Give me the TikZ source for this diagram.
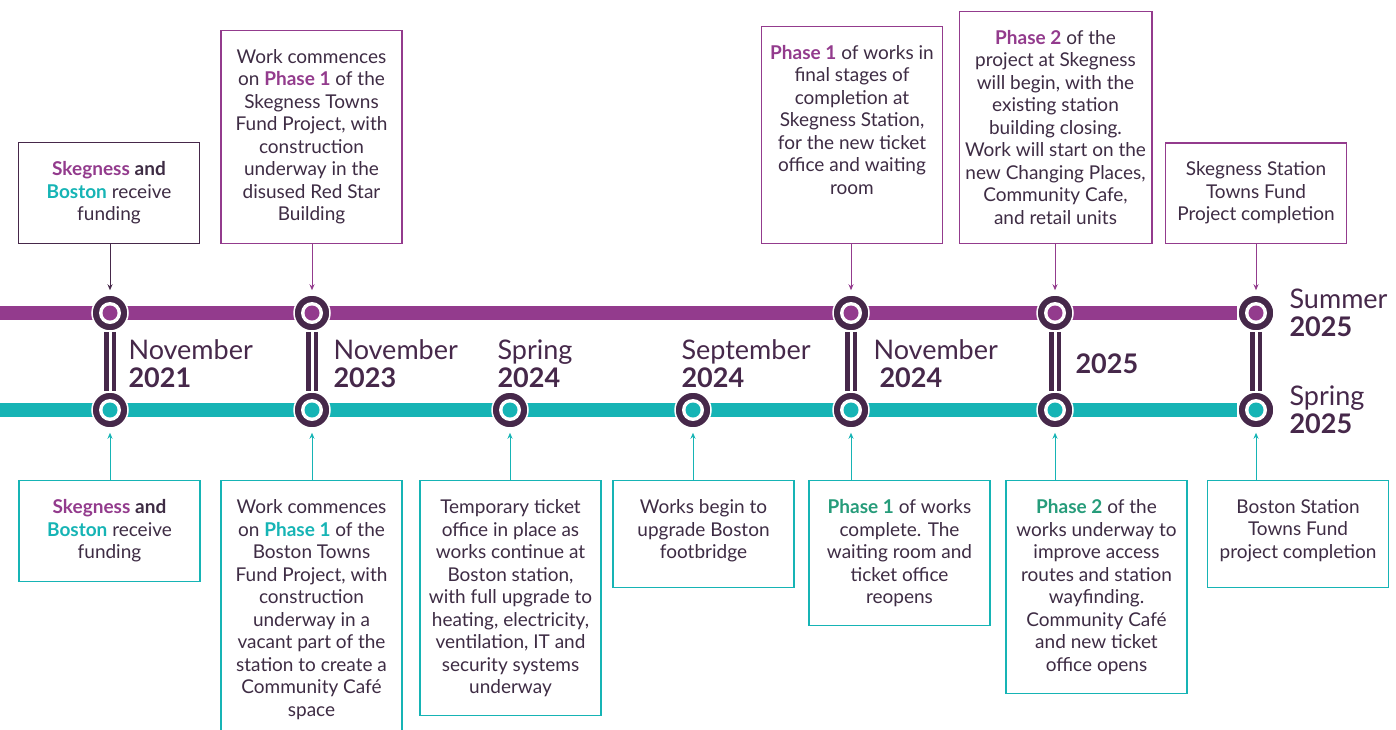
\documentclass[tikz,border=0pt]{standalone}
\usepackage{fontspec}
\setmainfont{Lato}
\usetikzlibrary{arrows.meta, positioning}
\definecolor{skegcolor}{RGB}{147, 59, 141}
\definecolor{bostcolor}{RGB}{22, 180, 181}
\definecolor{stopcolor}{RGB}{70, 40, 74}
\definecolor{textcolor}{RGB}{62, 44, 68}
\definecolor{phasecolor}{RGB}{38, 156, 122}
\newcommand{\skeg}[1]{\textbf{\color{skegcolor}#1}}
\newcommand{\bost}[1]{\textbf{\color{bostcolor}#1}}
\newcommand{\phs}[1]{\textbf{\color{phasecolor}#1}}

\begin{document}
\begin{tikzpicture}[x=1pt, y=-1pt,
    upbox/.style={draw=skegcolor, line width=1.1pt, fill=white, text=textcolor, align=center, font=\fontsize{19}{22.5}\selectfont, minimum width=181pt, inner xsep=6pt, inner ysep=19pt, anchor=south},
    lowbox/.style={upbox, draw=bostcolor, anchor=north},
    stopnode/.style={circle, fill=stopcolor, draw=white, line width=1.5pt, minimum size=36pt, inner sep=0pt},
    datelabel/.style={anchor=west, align=left, text=stopcolor, font=\fontsize{27}{28}\selectfont},
    downarrow/.style={-{Stealth[length=6pt, width=5pt]}, skegcolor, line width=0.9pt, shorten >=4pt},
    uparrow/.style={downarrow, bostcolor}]
    \useasboundingbox (0,0) rectangle (1396,729);
    \clip (0,0) rectangle (1396,729);

    % Stops on the two lines
    \node[stopnode] (s1) at (110, 313) {};
    \node[stopnode] (s2) at (312, 313) {};
    \node[stopnode] (s3) at (851, 313) {};
    \node[stopnode] (s4) at (1055, 313) {};
    \node[stopnode] (s5) at (1256, 313) {};
    \node[stopnode] (b1) at (110, 410) {};
    \node[stopnode] (b2) at (312, 410) {};
    \node[stopnode] (b3) at (510, 410) {};
    \node[stopnode] (b4) at (693, 410) {};
    \node[stopnode] (b5) at (851, 410) {};
    \node[stopnode] (b6) at (1055, 410) {};
    \node[stopnode] (b7) at (1256, 410) {};
    \coordinate (sstart) at (-10, 313);
    \coordinate (bstart) at (-10, 410);

    % Lines
    \draw[skegcolor, line width=14pt] (sstart) -- (s5.west);
    \draw[bostcolor, line width=14pt] (bstart) -- (b7.west);

    % Links between the lines
    \foreach \a/\b in {s1/b1, s2/b2, s3/b5, s4/b6, s5/b7} {
        \draw[stopcolor, line width=12pt] (\a) -- (\b);
    }

    % Stops drawn again on top
    \foreach \n in {s1, s2, s3, s4, s5, b1, b2, b3, b4, b5, b6, b7} {
        \node[stopnode] at (\n) {};
        \fill[white] (\n) circle (11);
    }
    \foreach \a/\b in {s1/b1, s2/b2, s3/b5, s4/b6, s5/b7} {
        \draw[white, line width=3pt] (\a) -- (\b);
    }
    \foreach \n in {s1, s2, s3, s4, s5} {
        \fill[skegcolor] (\n) circle (7.5);
    }
    \foreach \n in {b1, b2, b3, b4, b5, b6, b7} {
        \fill[bostcolor] (\n) circle (7.5);
    }

    % Dates
    \node[datelabel] (d1) at (125, 364) {November\\\textbf{2021}};
    \node[datelabel] (d2) at (330, 364) {November\\\textbf{2023}};
    \node[datelabel] (d3) at (494, 364) {Spring\\\textbf{2024}};
    \node[datelabel] (d4) at (678, 364) {September\\\textbf{2024}};
    \node[datelabel] (d5) at (870, 364) {November\\\hspace*{6pt}\textbf{2024}};
    \node[datelabel] (d6) at (1072, 364) {\textbf{2025}};
    \node[datelabel] (d7) at (1286, 313) {Summer\\\textbf{2025}};
    \node[datelabel] (d8) at (1286, 410) {Spring\\\textbf{2025}};

    % Skegness boxes
    \node[upbox, draw=stopcolor] (u1) at (109, 244) {\skeg{Skegness} \textbf{and}\\\bost{Boston} receive\\funding};
    \node[upbox] (u2) at (311.5, 244) {Work commences\\on \skeg{Phase 1} of the\\Skegness Towns\\Fund Project, with\\construction\\underway in the\\disused Red Star\\Building};
    \node[upbox] (u3) at (852, 244) {\skeg{Phase 1} of works in\\final stages of\\completion at\\Skegness Station,\\for the new ticket\\office and waiting\\room\rule[-30pt]{0pt}{0pt}};
    \node[upbox] (u4) at (1055.5, 244) {\skeg{Phase 2} of the\\project at Skegness\\will begin, with the\\existing station\\building closing.\\Work will start on the\\new Changing Places,\\Community Cafe,\\and retail units};
    \node[upbox] (u5) at (1256, 244) {Skegness Station\\Towns Fund\\Project completion};

    % Boston boxes
    \node[lowbox] (l1) at (109.5, 480) {\skeg{Skegness} \textbf{and}\\\bost{Boston} receive\\funding};
    \node[lowbox] (l2) at (311.5, 480) {Work commences\\on \bost{Phase 1} of the\\Boston Towns\\Fund Project, with\\construction\\underway in a\\vacant part of the\\station to create a\\Community Café\\space};
    \node[lowbox] (l3) at (510.5, 480) {Temporary ticket\\office in place as\\works continue at\\Boston station,\\with full upgrade to\\heating, electricity,\\ventilation, IT and\\security systems\\underway};
    \node[lowbox] (l4) at (703.5, 480) {Works begin to\\upgrade Boston\\footbridge\rule[-10pt]{0pt}{0pt}};
    \node[lowbox] (l5) at (899.5, 480) {\phs{Phase 1} of works\\complete. The\\waiting room and\\ticket office\\reopens};
    \node[lowbox] (l6) at (1096.5, 480) {\phs{Phase 2} of the\\works underway to\\improve access\\routes and station\\wayfinding.\\Community Café\\and new ticket\\office opens};
    \node[lowbox] (l7) at (1298, 480) {Boston Station\\Towns Fund\\project completion\rule[-10pt]{0pt}{0pt}};

    % Arrows to the stops
    \draw[downarrow, stopcolor] (u1.south -| s1) -- (s1);
    \draw[downarrow] (u2.south -| s2) -- (s2);
    \draw[downarrow] (u3.south -| s3) -- (s3);
    \draw[downarrow] (u4.south -| s4) -- (s4);
    \draw[downarrow] (u5.south -| s5) -- (s5);
    \draw[uparrow] (l1.north -| b1) -- (b1);
    \draw[uparrow] (l2.north -| b2) -- (b2);
    \draw[uparrow] (l3.north -| b3) -- (b3);
    \draw[uparrow] (l4.north -| b4) -- (b4);
    \draw[uparrow] (l5.north -| b5) -- (b5);
    \draw[uparrow] (l6.north -| b6) -- (b6);
    \draw[uparrow] (l7.north -| b7) -- (b7);
\end{tikzpicture}
\end{document}
